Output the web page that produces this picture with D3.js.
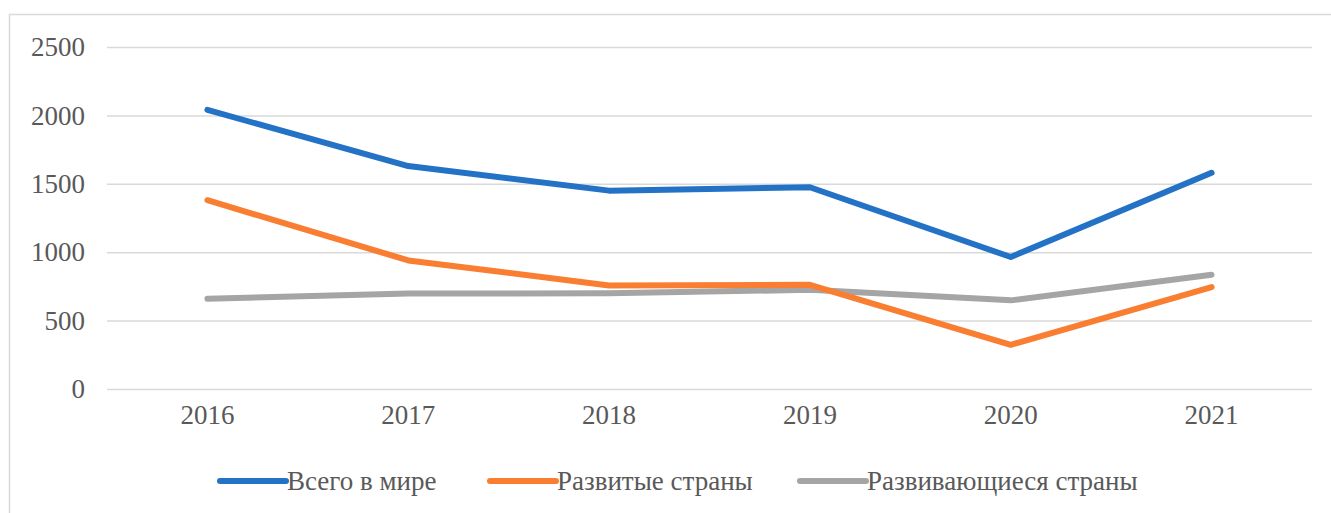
<!DOCTYPE html>
<html>
<head>
<meta charset="utf-8">
<script src="https://cdn.jsdelivr.net/npm/d3@7"></script>
<style>
  body { margin: 0; background: #fff; }
  text { font-family: "Liberation Serif", "Times New Roman", serif; fill: #595959; }
</style>
</head>
<body>
<div id="wrapper"></div>
<script>
// data
const years = ["2016", "2017", "2018", "2019", "2020", "2021"]
const seriesNames = ["Всего в мире", "Развитые страны", "Развивающиеся страны"]
const worldValues = [2040, 1630, 1450, 1475, 965, 1580]
const developedValues = [1380, 940, 757, 762, 323, 745]
const developingValues = [660, 698, 700, 725, 648, 835]
const yTicks = [0, 500, 1000, 1500, 2000, 2500]
const colors = ["#2372C6", "#F97E31", "#A5A5A5"]

const series = [worldValues, developedValues, developingValues].map((values, i) => ({
  name: seriesNames[i],
  color: colors[i],
  values: values.map((v, j) => ({ year: years[j], value: v }))
}))

// dimensions
const dimensions = {
  width: 1331,
  height: 513,
  margin: { top: 47, right: 19, bottom: 124, left: 107 },
}
dimensions.boundedWidth = dimensions.width - dimensions.margin.left - dimensions.margin.right
dimensions.boundedHeight = dimensions.height - dimensions.margin.top - dimensions.margin.bottom

const wrapper = d3.select("#wrapper")
  .append("svg")
    .attr("width", dimensions.width)
    .attr("height", dimensions.height)

// chart frame
wrapper.append("path")
  .attr("d", `M9.5,${dimensions.height} V14.5 H${dimensions.width}`)
  .attr("fill", "none")
  .attr("stroke", "#d9d9d9")
  .attr("stroke-width", 1.5)

const bounds = wrapper.append("g")
  .attr("transform", `translate(${dimensions.margin.left}, ${dimensions.margin.top})`)

// scales
const xScale = d3.scaleBand()
  .domain(years)
  .range([0, dimensions.boundedWidth])

const yScale = d3.scaleLinear()
  .domain([0, 2500])
  .range([dimensions.boundedHeight, 0])

// grid + y labels
const yAxis = d3.axisLeft(yScale)
  .tickValues(yTicks)
  .tickFormat(d3.format("d"))
  .tickSize(-dimensions.boundedWidth)
  .tickPadding(22)
const yAxisGroup = bounds.append("g").call(yAxis)
yAxisGroup.select(".domain").remove()
yAxisGroup.selectAll("line").attr("stroke", "#d9d9d9").attr("stroke-width", 1.5)
yAxisGroup.selectAll("text")
  .attr("fill", "#595959")
  .style("font-size", "27px")
  .style("font-family", "'Liberation Serif', serif")

// x labels
const xAxis = d3.axisBottom(xScale).tickSize(0).tickPadding(16)
const xAxisGroup = bounds.append("g")
  .attr("transform", `translate(0, ${dimensions.boundedHeight})`)
  .call(xAxis)
xAxisGroup.select(".domain").remove()
xAxisGroup.selectAll("text")
  .attr("fill", "#595959")
  .style("font-size", "27px")
  .style("font-family", "'Liberation Serif', serif")

// lines
const lineGenerator = d3.line()
  .x(d => xScale(d.year) + xScale.bandwidth() / 2)
  .y(d => yScale(d.value))

bounds.selectAll(".series-line")
  .data(series.slice().reverse())
  .enter().append("path")
    .attr("class", "series-line")
    .attr("d", d => lineGenerator(d.values))
    .attr("fill", "none")
    .attr("stroke", d => d.color)
    .attr("stroke-width", 6)
    .attr("stroke-linecap", "round")
    .attr("stroke-linejoin", "round")

// legend
const legendX = [220, 490, 800]
const legendGroup = wrapper.append("g")
  .attr("transform", "translate(0, 481)")
const legendItems = legendGroup.selectAll(".legend-item")
  .data(series)
  .enter().append("g")
    .attr("class", "legend-item")
    .attr("transform", (d, i) => `translate(${legendX[i]}, 0)`)
legendItems.append("line")
  .attr("x1", 0)
  .attr("x2", 66)
  .attr("stroke", d => d.color)
  .attr("stroke-width", 6)
  .attr("stroke-linecap", "round")
legendItems.append("text")
  .attr("x", 67)
  .attr("dy", "0.35em")
  .style("font-size", "27px")
  .text(d => d.name)
</script>
</body>
</html>
